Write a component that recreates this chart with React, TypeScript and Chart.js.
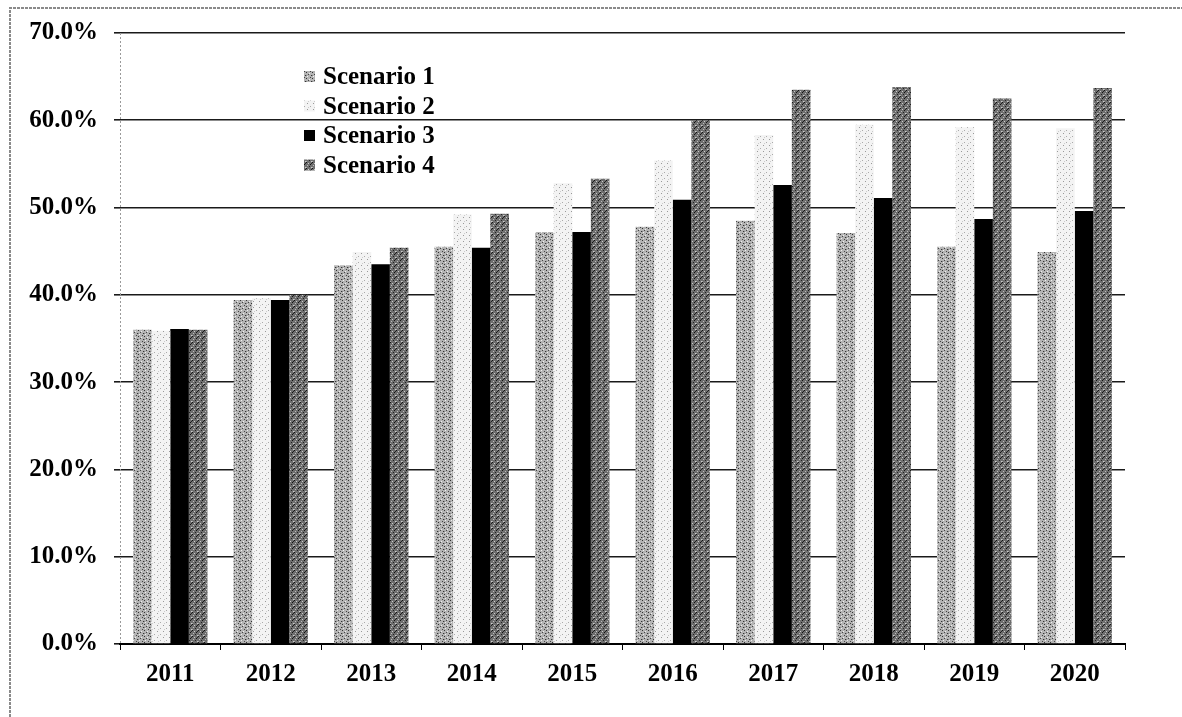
import React, { useEffect, useRef } from "react";
import { Chart, registerables } from "chart.js";

Chart.register(...registerables);

const years = ["2011", "2012", "2013", "2014", "2015", "2016", "2017", "2018", "2019", "2020"];
const scenario1 = [36.0, 39.4, 43.4, 45.5, 47.2, 47.8, 48.5, 47.1, 45.5, 44.9];
const scenario2 = [35.9, 39.6, 44.9, 49.2, 52.8, 55.4, 58.3, 59.5, 59.2, 59.1];
const scenario3 = [36.1, 39.4, 43.5, 45.4, 47.2, 50.9, 52.6, 51.1, 48.7, 49.6];
const scenario4 = [36.0, 40.0, 45.4, 49.3, 53.3, 60.0, 63.5, 63.8, 62.5, 63.7];
const seriesNames = ["Scenario 1", "Scenario 2", "Scenario 3", "Scenario 4"];
const yTicks = [0, 10, 20, 30, 40, 50, 60, 70];

const FONT = '"Liberation Serif", "Times New Roman", serif';

function makePattern(base: string, dots: [number, number, string][], size: number) {
  const c = document.createElement("canvas");
  c.width = size;
  c.height = size;
  const x = c.getContext("2d")!;
  x.fillStyle = base;
  x.fillRect(0, 0, size, size);
  for (const [px, py, col] of dots) {
    x.fillStyle = col;
    x.fillRect(px, py, 1, 1);
  }
  return x.createPattern(c, "repeat")!;
}

export default function App() {
  const ref = useRef<HTMLCanvasElement>(null);
  useEffect(() => {
    const canvas = ref.current!;
    const p1 = makePattern("#b4b4b4", [[0, 0, "#333"], [3, 1, "#eee"], [2, 2, "#444"], [5, 3, "#333"], [1, 4, "#eee"], [4, 5, "#444"], [0, 3, "#888"]], 6);
    const p2 = makePattern("#f3f3f3", [[1, 1, "#999"], [4, 4, "#aaa"], [2, 5, "#ccc"]], 6);
    const p3 = "#000000";
    const p4 = makePattern("#6e6e6e", [[0, 0, "#111"], [2, 1, "#ccc"], [4, 2, "#111"], [1, 3, "#bbb"], [3, 4, "#222"], [5, 5, "#ccc"], [5, 1, "#222"], [0, 5, "#aaa"]], 6);
    const fills = [p1, p2, p3, p4];
    const values = [scenario1, scenario2, scenario3, scenario4];

    const frame = {
      id: "frame",
      beforeDraw(chart: any) {
        const ctx = chart.ctx;
        ctx.save();
        ctx.strokeStyle = "#8a8a8a";
        ctx.lineWidth = 2;
        ctx.setLineDash([3, 1]);
        ctx.beginPath();
        ctx.moveTo(10, 717);
        ctx.lineTo(10, 8);
        ctx.lineTo(1182, 8);
        ctx.stroke();
        ctx.restore();
      },
      afterDatasetsDraw(chart: any) {
        const ctx = chart.ctx;
        const a = chart.chartArea;
        ctx.save();
        ctx.strokeStyle = "#9a9a9a";
        ctx.lineWidth = 1;
        ctx.setLineDash([2, 2]);
        ctx.beginPath();
        ctx.moveTo(a.left + 0.5, a.top);
        ctx.lineTo(a.left + 0.5, a.bottom);
        ctx.stroke();
        ctx.restore();
      },
    };

    const legendPlugin = {
      id: "innerLegend",
      afterDraw(chart: any) {
        const ctx = chart.ctx;
        const area = chart.chartArea;
        ctx.save();
        ctx.font = `bold 25px ${FONT}`;
        ctx.textBaseline = "middle";
        ctx.textAlign = "left";
        chart.data.datasets.forEach((ds: any, i: number) => {
          const y = area.top + 44 + i * 29.5;
          const bx = area.left + 184;
          ctx.fillStyle = ds.backgroundColor;
          ctx.fillRect(bx, y - 6, 11, 11);
          ctx.fillStyle = "#000";
          ctx.fillText(ds.label, bx + 19, y + 1);
        });
        ctx.restore();
      },
    };

    const chart = new Chart(canvas, {
      type: "bar",
      data: {
        labels: years,
        datasets: seriesNames.map((name, i) => ({
          label: name,
          data: values[i],
          backgroundColor: fills[i] as any,
          borderWidth: 0,
          categoryPercentage: 0.74,
          barPercentage: 1.0,
        })),
      },
      options: {
        animation: false,
        responsive: false,
        maintainAspectRatio: false,
        layout: { padding: { left: 0, right: 57, top: 33, bottom: 0 } },
        plugins: { legend: { display: false }, tooltip: { enabled: false } },
        scales: {
          x: {
            afterFit(scale: any) {
              scale.height = 73;
            },
            grid: {
              display: true,
              drawOnChartArea: false,
              drawTicks: true,
              tickLength: 6,
              color: "#000",
              offset: true,
            },
            border: { display: true, color: "#000", width: 2 },
            ticks: {
              color: "#000",
              padding: 10,
              font: { family: FONT, size: 25, weight: "bold" },
            },
          },
          y: {
            min: 0,
            max: 70,
            afterFit(scale: any) {
              scale.width = 120;
            },
            afterBuildTicks(scale: any) {
              scale.ticks = yTicks.map((v) => ({ value: v }));
            },
            grid: {
              color: "#1a1a1a",
              lineWidth: 1.6,
              tickLength: 6,
              drawTicks: true,
            },
            border: { display: false },
            ticks: {
              color: "#000",
              padding: 16,
              font: { family: FONT, size: 25, weight: "bold" },
              callback: (v: any) => Number(v).toFixed(1) + "%",
            },
          },
        },
      },
      plugins: [frame, legendPlugin],
    });
    return () => chart.destroy();
  }, []);

  return (
    <div style={{ position: "absolute", left: 0, top: 0, width: 1182, height: 717, background: "#fff" }}>
      <canvas ref={ref} width={1182} height={717} style={{ display: "block" }} />
    </div>
  );
}
